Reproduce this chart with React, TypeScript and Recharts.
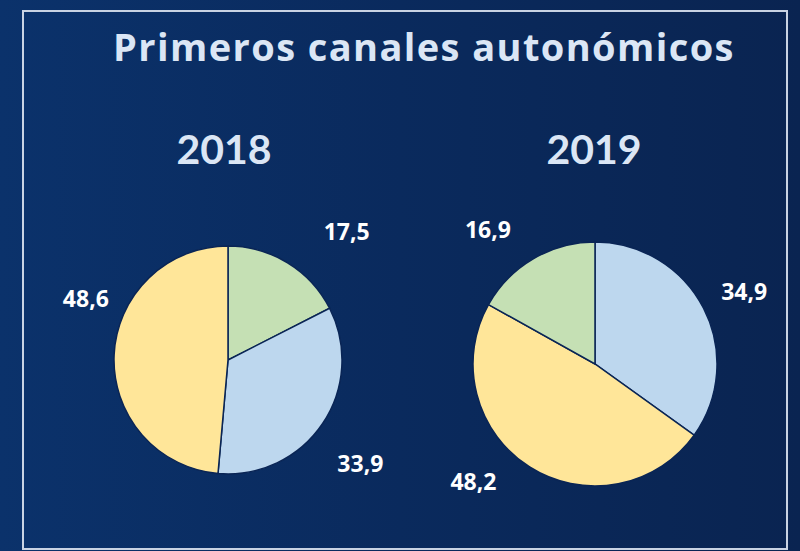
import * as React from "react";
import { PieChart, Pie, Cell } from "recharts";

const W = 800;
const H = 551;

const TITLE = "Primeros canales autonómicos";
const YEARS = ["2018", "2019"];

// slice order is clockwise from 12 o'clock, as in the original
const names2018 = ["green", "blue", "yellow"];
const values2018 = [17.5, 33.9, 48.6];
const names2019 = ["blue", "yellow", "green"];
const values2019 = [34.9, 48.2, 16.9];

const SLICE_COLORS: Record<string, string> = {
  green: "#c5e0b4",
  blue: "#bdd7ee",
  yellow: "#ffe699",
};

// label placement (angle in degrees, distance from centre) — hand-placed in the source
const LABEL_PLACE: Record<string, Record<string, [number, number]>> = {
  "2018": { green: [47.3, 175], blue: [-38, 168], yellow: [156.5, 155] },
  "2019": { blue: [26, 166], yellow: [-136, 169], green: [128.5, 172] },
};

const fmt = (v: number) => v.toFixed(1).replace(".", ",");

const makeLabel = (year: string) => (props: any) => {
  const { cx, cy, payload, value } = props;
  const [ang, r] = LABEL_PLACE[year][payload.name];
  const rad = (ang * Math.PI) / 180;
  const x = cx + r * Math.cos(rad);
  const y = cy - r * Math.sin(rad);
  return (
    <text
      x={x}
      y={y}
      fill="#ffffff"
      textAnchor="middle"
      dominantBaseline="central"
      fontFamily="'Noto Sans', sans-serif"
      fontWeight={700}
      fontSize={23}
    >
      {fmt(value)}
    </text>
  );
};

const data2018 = names2018.map((n, i) => ({ name: n, value: values2018[i] }));
const data2019 = names2019.map((n, i) => ({ name: n, value: values2019[i] }));

export default function App() {
  const heading: React.CSSProperties = {
    position: "absolute",
    color: "#dbe6f5",
    fontWeight: 700,
    whiteSpace: "nowrap",
    lineHeight: 1,
  };
  return (
    <div
      style={{
        position: "fixed",
        left: 0,
        top: 0,
        width: W,
        height: H,
        overflow: "hidden",
        background: "linear-gradient(90deg, #0b326b 0%, #0a2a5d 50%, #0a2451 100%)",
      }}
    >
      <div
        style={{
          position: "absolute",
          left: 22,
          top: 10,
          width: 766,
          height: 540,
          border: "2px solid #c9d3e3",
          boxSizing: "border-box",
        }}
      />
      <div
        style={{
          ...heading,
          fontFamily: "'Open Sans', sans-serif",
          left: 0,
          width: 848,
          top: 27,
          fontSize: 38,
          letterSpacing: 1.4,
          textAlign: "center",
        }}
      >
        {TITLE}
      </div>
      <div style={{ ...heading, fontFamily: "Lato, sans-serif", left: 124, width: 200, top: 128, fontSize: 41, textAlign: "center" }}>
        {YEARS[0]}
      </div>
      <div style={{ ...heading, fontFamily: "Lato, sans-serif", left: 494, width: 200, top: 128, fontSize: 41, textAlign: "center" }}>
        {YEARS[1]}
      </div>
      <div style={{ position: "absolute", left: 0, top: 0 }}>
        <PieChart width={W} height={H} margin={{ top: 0, right: 0, bottom: 0, left: 0 }}>
          <Pie
            data={data2018}
            dataKey="value"
            nameKey="name"
            cx={228}
            cy={360}
            outerRadius={114}
            startAngle={90}
            endAngle={-270}
            stroke="#0a2555"
            strokeWidth={1.5}
            label={makeLabel("2018")}
            labelLine={false}
            isAnimationActive={false}
          >
            {data2018.map((d) => (
              <Cell key={d.name} fill={SLICE_COLORS[d.name]} />
            ))}
          </Pie>
          <Pie
            data={data2019}
            dataKey="value"
            nameKey="name"
            cx={595}
            cy={364}
            outerRadius={122}
            startAngle={90}
            endAngle={-270}
            stroke="#0a2555"
            strokeWidth={1.5}
            label={makeLabel("2019")}
            labelLine={false}
            isAnimationActive={false}
          >
            {data2019.map((d) => (
              <Cell key={d.name} fill={SLICE_COLORS[d.name]} />
            ))}
          </Pie>
        </PieChart>
      </div>
    </div>
  );
}
